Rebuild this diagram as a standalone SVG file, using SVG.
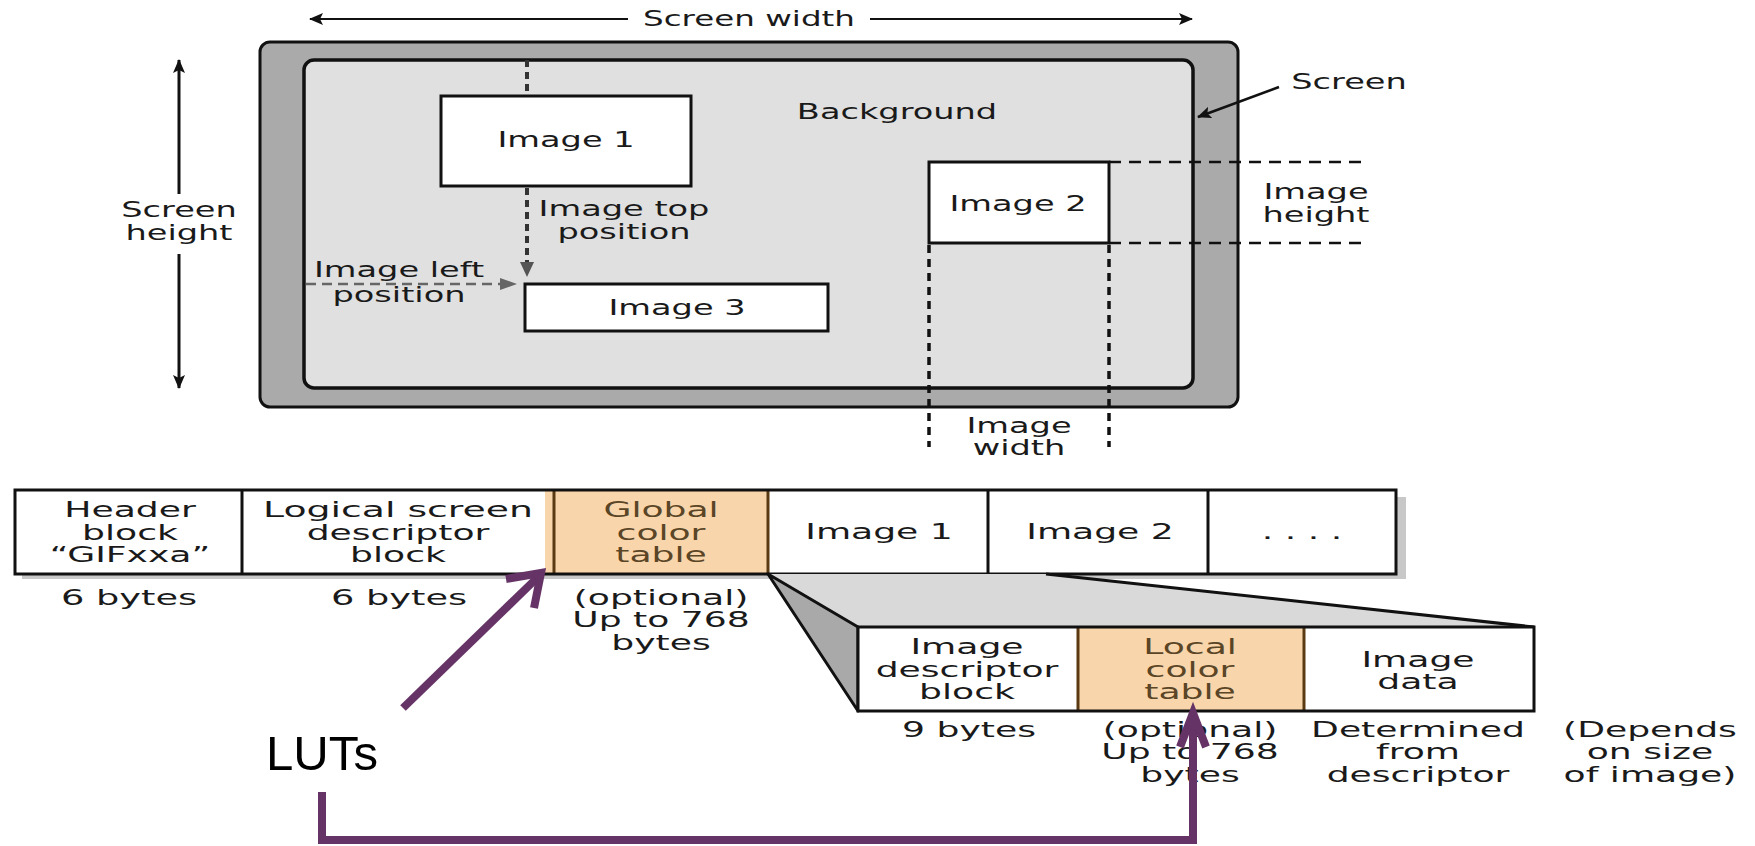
<svg xmlns="http://www.w3.org/2000/svg" width="1755" height="846" viewBox="0 0 1755 846">
<defs>
<style>
.t{font-family:"DejaVu Sans",sans-serif;font-size:21px;fill:#1a1a1a;text-anchor:middle}
.br{fill:#5a4526}
.box{fill:#fff;stroke:#111;stroke-width:3}
.peach{fill:#f9d5ab}
.bl{stroke:#5a3a12;stroke-width:3}
.div{stroke:#111;stroke-width:3}
.pur{fill:none;stroke:#663366;stroke-width:8}
</style>
<marker id="ah" viewBox="0 0 14 12" refX="13" refY="6" markerWidth="14" markerHeight="12" markerUnits="userSpaceOnUse" orient="auto-start-reverse">
<path d="M0,0 L14,6 L0,12 L3,6 Z" fill="#111"/>
</marker>
</defs>
<rect width="1755" height="846" fill="#fff"/>

<g id="screen">
<rect x="260" y="42" width="978" height="365" rx="10" fill="#aaaaaa" stroke="#111" stroke-width="3"/>
<rect x="304" y="60" width="889" height="328" rx="10" fill="#e0e0e0" stroke="#111" stroke-width="3.5"/>
<text class="t" transform="translate(897,0) scale(1.6,1)" y="119">Background</text>
</g>

<g id="connectors">
<line x1="310" y1="19" x2="628" y2="19" stroke="#111" stroke-width="2" marker-start="url(#ah)"/>
<line x1="870" y1="19" x2="1192" y2="19" stroke="#111" stroke-width="2" marker-end="url(#ah)"/>
<line x1="179" y1="60" x2="179" y2="194" stroke="#111" stroke-width="3" marker-start="url(#ah)"/>
<line x1="179" y1="254" x2="179" y2="388" stroke="#111" stroke-width="3" marker-end="url(#ah)"/>
<line x1="1279" y1="87" x2="1198" y2="117" stroke="#111" stroke-width="2.5" marker-end="url(#ah)"/>
<line x1="527" y1="60" x2="527" y2="96" stroke="#333" stroke-width="4" stroke-dasharray="7,5"/>
<line x1="527" y1="188" x2="527" y2="264" stroke="#333" stroke-width="4" stroke-dasharray="7,5"/>
<path d="M527,277 L520,262 L534,262 Z" fill="#555"/>
<line x1="306" y1="284" x2="502" y2="284" stroke="#666" stroke-width="2.5" stroke-dasharray="10,6"/>
<path d="M517,284 L500,278 L500,290 Z" fill="#666"/>
<line x1="1109" y1="162" x2="1366" y2="162" stroke="#111" stroke-width="2.5" stroke-dasharray="12,8"/>
<line x1="1109" y1="243" x2="1366" y2="243" stroke="#111" stroke-width="2.5" stroke-dasharray="12,8"/>
<line x1="929" y1="245" x2="929" y2="447" stroke="#111" stroke-width="3.5" stroke-dasharray="8,6"/>
<line x1="1109" y1="245" x2="1109" y2="447" stroke="#111" stroke-width="3.5" stroke-dasharray="8,6"/>
</g>

<g id="labels-top">
<text class="t" transform="translate(749,0) scale(1.55,1)" y="26">Screen width</text>
<text class="t" transform="translate(179,0) scale(1.6,1)"><tspan x="0" y="217">Screen</tspan><tspan x="0" y="240">height</tspan></text>
<text class="t" transform="translate(1349,0) scale(1.6,1)" y="89">Screen</text>
<text class="t" transform="translate(624,0) scale(1.6,1)"><tspan x="0" y="216">Image top</tspan><tspan x="0" y="239">position</tspan></text>
<text class="t" transform="translate(399,0) scale(1.6,1)"><tspan x="0" y="277">Image left</tspan><tspan x="0" y="302">position</tspan></text>
<text class="t" transform="translate(1316,0) scale(1.6,1)"><tspan x="0" y="199">Image</tspan><tspan x="0" y="222">height</tspan></text>
<text class="t" transform="translate(1019,0) scale(1.6,1)"><tspan x="0" y="433">Image</tspan><tspan x="0" y="455">width</tspan></text>
</g>

<g id="img1">
<rect class="box" x="441" y="96" width="250" height="90"/>
<text class="t" transform="translate(566,0) scale(1.6,1)" y="147">Image 1</text>
</g>
<g id="img3">
<rect class="box" x="525" y="284" width="303" height="47"/>
<text class="t" transform="translate(677,0) scale(1.6,1)" y="315">Image 3</text>
</g>
<g id="img2">
<rect class="box" x="929" y="162" width="180" height="81"/>
<text class="t" transform="translate(1018,0) scale(1.6,1)" y="211">Image 2</text>
</g>

<g id="row1">
<rect x="22" y="497" width="1384" height="82" fill="#c8c8c8"/>
<rect x="15" y="490" width="1381" height="84" fill="#fff"/>
<rect class="peach" x="545" y="490" width="223" height="84"/>
<line class="bl" x1="554" y1="490" x2="554" y2="574"/>
<line class="bl" x1="768" y1="490" x2="768" y2="574"/>
<line class="div" x1="242" y1="490" x2="242" y2="574"/>
<line class="div" x1="988" y1="490" x2="988" y2="574"/>
<line class="div" x1="1208" y1="490" x2="1208" y2="574"/>
<rect x="15" y="490" width="1381" height="84" fill="none" stroke="#111" stroke-width="3"/>
<text class="t" transform="translate(130,0) scale(1.72,1)"><tspan x="0" y="517">Header</tspan><tspan x="0" y="540">block</tspan><tspan x="0" y="562">“GIFxxa”</tspan></text>
<text class="t" transform="translate(398,0) scale(1.8,1)" y="517">Logical screen</text>
<text class="t" transform="translate(398,0) scale(1.72,1)"><tspan x="0" y="540">descriptor</tspan><tspan x="0" y="562">block</tspan></text>
<text class="t br" transform="translate(661,0) scale(1.72,1)"><tspan x="0" y="517">Global</tspan><tspan x="0" y="540">color</tspan><tspan x="0" y="562">table</tspan></text>
<text class="t" transform="translate(879,0) scale(1.72,1)" y="539">Image 1</text>
<text class="t" transform="translate(1100,0) scale(1.72,1)" y="539">Image 2</text>
<text class="t" transform="translate(1302,0) scale(1.72,1)" y="539">. . . .</text>
<text class="t" transform="translate(129,0) scale(1.75,1)" y="605">6 bytes</text>
<text class="t" transform="translate(399,0) scale(1.75,1)" y="605">6 bytes</text>
<text class="t" transform="translate(661,0) scale(1.72,1)"><tspan x="0" y="605">(optional)</tspan><tspan x="0" y="627">Up to 768</tspan><tspan x="0" y="650">bytes</tspan></text>
</g>

<g id="expansion">
<polygon points="768,574 1046,574 1534,627 858,627" fill="#d9d9d9"/>
<polygon points="768,574 858,627 858,711" fill="#a9a9a9" stroke="#111" stroke-width="3" stroke-linejoin="round"/>
<line x1="1046" y1="574" x2="1534" y2="627" stroke="#111" stroke-width="3"/>
</g>

<g id="row2">
<rect x="858" y="627" width="676" height="84" fill="#fff"/>
<rect class="peach" x="1078" y="627" width="226" height="84"/>
<line class="bl" x1="1078" y1="627" x2="1078" y2="711"/>
<line class="bl" x1="1304" y1="627" x2="1304" y2="711"/>
<rect x="858" y="627" width="676" height="84" fill="none" stroke="#111" stroke-width="3"/>
<text class="t" transform="translate(967,0) scale(1.72,1)"><tspan x="0" y="654">Image</tspan><tspan x="0" y="677">descriptor</tspan><tspan x="0" y="699">block</tspan></text>
<text class="t br" transform="translate(1190,0) scale(1.72,1)"><tspan x="0" y="654">Local</tspan><tspan x="0" y="677">color</tspan><tspan x="0" y="699">table</tspan></text>
<text class="t" transform="translate(1418,0) scale(1.72,1)"><tspan x="0" y="667">Image</tspan><tspan x="0" y="689">data</tspan></text>
<text class="t" transform="translate(969,0) scale(1.72,1)" y="737">9 bytes</text>
<text class="t" transform="translate(1190,0) scale(1.72,1)"><tspan x="0" y="737">(optional)</tspan><tspan x="0" y="759">Up to 768</tspan><tspan x="0" y="782">bytes</tspan></text>
<text class="t" transform="translate(1418,0) scale(1.72,1)"><tspan x="0" y="737">Determined</tspan><tspan x="0" y="759">from</tspan><tspan x="0" y="782">descriptor</tspan></text>
<text class="t" transform="translate(1650,0) scale(1.72,1)"><tspan x="0" y="737">(Depends</tspan><tspan x="0" y="759">on size</tspan><tspan x="0" y="782">of image)</tspan></text>
</g>

<g id="luts">
<text x="266" y="770" font-family="'Liberation Sans',Arial,sans-serif" font-size="49" fill="#000" textLength="112" lengthAdjust="spacingAndGlyphs">LUTs</text>
</g>

<g id="lut-arrows">
<line class="pur" x1="403" y1="708" x2="538" y2="577"/>
<path class="pur" d="M506,579 L541,573 L534,608" stroke-linejoin="miter"/>
<path class="pur" d="M322,792 V840 H1193 V716"/>
<path class="pur" d="M1180,747 L1193,713 L1206,747" stroke-linejoin="miter"/>
</g>
</svg>
